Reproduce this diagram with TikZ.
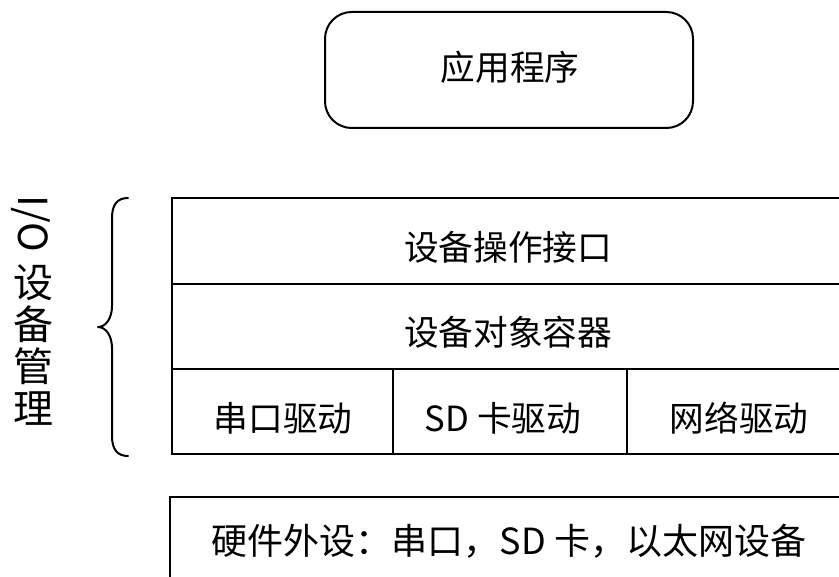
\documentclass[tikz,border=0pt]{standalone}
\usepackage{fontspec}
\setmainfont{Noto Sans CJK SC}
\begin{document}
\begin{tikzpicture}[x=0.75pt,y=-0.75pt,
  boxline/.style={draw=black,line width=1.5pt},
  lbl/.style={inner sep=0pt,font=\fontsize{26}{30}\selectfont},
  vlbl/.style={inner sep=0pt,font=\fontsize{30}{34}\selectfont}]
\useasboundingbox (0,0) rectangle (839,577);
\clip (0,0) rectangle (839,577);
% application box
\node[boxline,rounded corners=20pt,minimum width=368*0.75pt,minimum height=116*0.75pt,inner sep=0pt] (app) at (509,70) {};
\node[lbl] (apptxt) at (510,67) {应用程序};
% I/O management stack
\node[boxline,minimum width=674*0.75pt,minimum height=86*0.75pt,inner sep=0pt] (iface) at (509,241) {};
\node[boxline,minimum width=674*0.75pt,minimum height=85*0.75pt,inner sep=0pt] (cont) at (509,326.5) {};
\node[boxline,minimum width=221*0.75pt,minimum height=85*0.75pt,inner sep=0pt] (drv1) at (282,411.5) {};
\node[boxline,minimum width=234*0.75pt,minimum height=85*0.75pt,inner sep=0pt] (drv2) at (510,411.5) {};
\node[boxline,minimum width=219*0.75pt,minimum height=85*0.75pt,inner sep=0pt] (drv3) at (736.5,411.5) {};
\node[lbl] (ifacetxt) at (508,247) {设备操作接口};
\node[lbl] (conttxt) at (508,332) {设备对象容器};
\node[lbl] (drv1txt) at (283,418) {串口驱动};
\node[lbl] (drv2txt) at (503,418) {SD 卡驱动};
\node[lbl] (drv3txt) at (739,418) {网络驱动};
% hardware box
\node[boxline,minimum width=676*0.75pt,minimum height=90*0.75pt,inner sep=0pt] (hw) at (508,542) {};
\node[lbl,font=\fontsize{27}{30}\selectfont] (hwtxt) at (509,541) {硬件外设：串口，SD 卡，以太网设备};
% brace
\coordinate (bt) at (128,198);
\coordinate (bb) at (128,456);
\coordinate (tip) at (98,327);
\draw[line width=1.5pt,line cap=round,line join=round]
  (bt) .. controls (117,198) and (112,205) .. (112,218)
  -- (112,306) .. controls (112,318) and (106,327) .. (tip)
  .. controls (106,327) and (112,336) .. (112,348)
  -- (112,436) .. controls (112,449) and (117,456) .. (bb);
% vertical label
\node[vlbl,rotate=-90] (io) at (31,224) {I/O};
\node[vlbl] (c1) at (33,283) {设};
\node[vlbl] (c2) at (33,324) {备};
\node[vlbl] (c3) at (33,366) {管};
\node[vlbl] (c4) at (33,409) {理};
\end{tikzpicture}
\end{document}
